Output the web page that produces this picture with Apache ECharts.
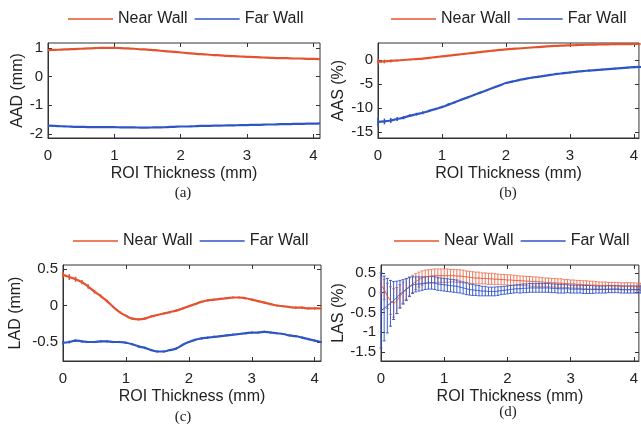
<!DOCTYPE html>
<html>
<head>
<meta charset="utf-8">
<script src="https://cdn.jsdelivr.net/npm/echarts@6/dist/echarts.min.js"></script>
<style>
  html, body { margin: 0; padding: 0; background: #fff; }
  #main { width: 641px; height: 430px; }
</style>
</head>
<body>
<div id="main"></div>
<script>
// ROI thickness (mm) for panels a-c
var thickness = [0, 0.1, 0.2, 0.3, 0.4, 0.5, 0.6, 0.7, 0.8, 0.9, 1.0, 1.1, 1.2, 1.3, 1.4, 1.5, 1.6, 1.7, 1.8, 1.9,
    2.0, 2.1, 2.2, 2.3, 2.4, 2.5, 2.6, 2.7, 2.8, 2.9, 3.0, 3.1, 3.2, 3.3, 3.4, 3.5, 3.6, 3.7, 3.8, 3.9, 4.0, 4.1];

// finer ROI thickness grid for panel d (error bars are dense there)
var thicknessFine = [0, 0.05, 0.1, 0.15, 0.2, 0.25, 0.3, 0.35, 0.4, 0.45,
    0.5, 0.55, 0.6, 0.65, 0.7, 0.75, 0.8, 0.85, 0.9, 0.95,
    1.0, 1.05, 1.1, 1.15, 1.2, 1.25, 1.3, 1.35, 1.4, 1.45,
    1.5, 1.55, 1.6, 1.65, 1.7, 1.75, 1.8, 1.85, 1.9, 1.95,
    2.0, 2.05, 2.1, 2.15, 2.2, 2.25, 2.3, 2.35, 2.4, 2.45,
    2.5, 2.55, 2.6, 2.65, 2.7, 2.75, 2.8, 2.85, 2.9, 2.95,
    3.0, 3.05, 3.1, 3.15, 3.2, 3.25, 3.3, 3.35, 3.4, 3.45,
    3.5, 3.55, 3.6, 3.65, 3.7, 3.75, 3.8, 3.85, 3.9, 3.95,
    4.0, 4.05, 4.1];

// (a) AAD (mm)
var aadNear = [0.92, 0.93, 0.94, 0.95, 0.96, 0.97, 0.98, 0.99, 1.0, 1.0, 1.0, 0.99, 0.98, 0.97, 0.95, 0.94, 0.92, 0.9, 0.88, 0.86,
    0.84, 0.82, 0.8, 0.78, 0.77, 0.75, 0.74, 0.72, 0.71, 0.7, 0.69, 0.68, 0.67, 0.66, 0.65, 0.64, 0.64, 0.63, 0.63, 0.62, 0.62, 0.61];
var aadFar = [-1.71, -1.72, -1.73, -1.74, -1.75, -1.75, -1.76, -1.76, -1.76, -1.76, -1.76, -1.77, -1.77, -1.77, -1.78, -1.78, -1.77, -1.77, -1.76, -1.75,
    -1.74, -1.74, -1.73, -1.72, -1.72, -1.71, -1.71, -1.7, -1.7, -1.69, -1.69, -1.68, -1.68, -1.67, -1.67, -1.66, -1.66, -1.65, -1.65, -1.64, -1.64, -1.63];

// (b) AAS (%)
var aasNear = [-0.4, -0.3, -0.2, -0.1, 0.0, 0.1, 0.2, 0.3, 0.45, 0.6, 0.75, 0.9, 1.05, 1.2, 1.35, 1.5, 1.65, 1.8, 1.95, 2.1,
    2.2, 2.3, 2.4, 2.5, 2.6, 2.7, 2.8, 2.9, 2.95, 3.0, 3.05, 3.1, 3.15, 3.2, 3.22, 3.25, 3.27, 3.3, 3.3, 3.32, 3.33, 3.35];
var aasNearErr = [0.6, 0.4, 0.3, 0.2, 0.15, 0.15, 0.12, 0.12, 0.1, 0.1, 0.1, 0.1, 0.1, 0.1, 0.1, 0.1, 0.1, 0.1, 0.1, 0.1,
    0.1, 0.1, 0.1, 0.1, 0.1, 0.1, 0.1, 0.1, 0.1, 0.1, 0.1, 0.1, 0.1, 0.1, 0.1, 0.1, 0.1, 0.1, 0.1, 0.1, 0.1, 0.1];
var aasFar = [-12.9, -12.8, -12.6, -12.3, -12.0, -11.6, -11.3, -11.0, -10.6, -10.2, -9.8, -9.3, -8.8, -8.3, -7.8, -7.3, -6.8, -6.3, -5.8, -5.3,
    -4.8, -4.5, -4.2, -3.95, -3.7, -3.5, -3.3, -3.1, -2.9, -2.75, -2.6, -2.45, -2.3, -2.2, -2.1, -2.0, -1.9, -1.8, -1.7, -1.6, -1.5, -1.45];
var aasFarErr = [0.9, 0.6, 0.5, 0.4, 0.35, 0.3, 0.3, 0.3, 0.25, 0.25, 0.25, 0.25, 0.25, 0.25, 0.2, 0.2, 0.2, 0.2, 0.2, 0.2,
    0.2, 0.2, 0.2, 0.2, 0.2, 0.2, 0.2, 0.2, 0.2, 0.2, 0.2, 0.2, 0.2, 0.2, 0.2, 0.2, 0.2, 0.2, 0.2, 0.2, 0.2, 0.2];

// (c) LAD (mm)
var ladNear = [0.42, 0.39, 0.36, 0.32, 0.26, 0.19, 0.13, 0.06, -0.02, -0.09, -0.14, -0.18, -0.19, -0.18, -0.15, -0.13, -0.11, -0.09, -0.07, -0.04,
    -0.01, 0.02, 0.05, 0.07, 0.08, 0.09, 0.1, 0.11, 0.11, 0.1, 0.08, 0.06, 0.04, 0.02, 0.0, -0.01, -0.02, -0.03, -0.03, -0.04, -0.04, -0.04];
var ladNearErr = [0.04, 0.04, 0.035, 0.03, 0.03, 0.025, 0.02, 0.02, 0.015, 0.015, 0.015, 0.015, 0.015, 0.015, 0.015, 0.015, 0.015, 0.015, 0.015, 0.015,
    0.015, 0.015, 0.015, 0.015, 0.015, 0.015, 0.015, 0.015, 0.015, 0.015, 0.015, 0.015, 0.015, 0.015, 0.015, 0.015, 0.015, 0.015, 0.015, 0.015, 0.015, 0.015];
var ladFar = [-0.51, -0.5, -0.48, -0.49, -0.5, -0.5, -0.49, -0.49, -0.5, -0.5, -0.51, -0.53, -0.56, -0.58, -0.61, -0.63, -0.63, -0.61, -0.59, -0.54,
    -0.5, -0.47, -0.45, -0.44, -0.43, -0.42, -0.41, -0.4, -0.39, -0.38, -0.37, -0.37, -0.36, -0.37, -0.38, -0.39, -0.41, -0.42, -0.44, -0.46, -0.48, -0.5];
var ladFarErr = [0.025, 0.02, 0.02, 0.015, 0.015, 0.015, 0.015, 0.015, 0.015, 0.015, 0.015, 0.015, 0.015, 0.015, 0.015, 0.015, 0.015, 0.015, 0.015, 0.015,
    0.015, 0.015, 0.015, 0.015, 0.015, 0.015, 0.015, 0.015, 0.015, 0.015, 0.015, 0.015, 0.015, 0.015, 0.015, 0.015, 0.015, 0.015, 0.015, 0.015, 0.015, 0.015];

// (d) LAS (%), on thicknessFine
var lasNear = [0.19, 0.08, -0.08, -0.2, -0.26, -0.2, -0.09, 0.0, 0.09, 0.16,
    0.22, 0.28, 0.33, 0.37, 0.4, 0.41, 0.42, 0.43, 0.43, 0.43,
    0.43, 0.43, 0.43, 0.43, 0.42, 0.42, 0.41, 0.4, 0.39, 0.38,
    0.37, 0.37, 0.36, 0.36, 0.35, 0.35, 0.34, 0.34, 0.33, 0.33,
    0.32, 0.32, 0.31, 0.31, 0.3, 0.3, 0.29, 0.29, 0.28, 0.28,
    0.27, 0.27, 0.26, 0.26, 0.25, 0.25, 0.24, 0.24, 0.23, 0.23,
    0.22, 0.22, 0.21, 0.21, 0.2, 0.2, 0.19, 0.19, 0.19, 0.18,
    0.18, 0.18, 0.17, 0.17, 0.17, 0.17, 0.16, 0.16, 0.16, 0.16,
    0.16, 0.15, 0.15];
var lasNearErr = [0.2, 0.26, 0.32, 0.35, 0.36, 0.33, 0.29, 0.27, 0.26, 0.24,
    0.22, 0.2, 0.19, 0.18, 0.17, 0.17, 0.17, 0.17, 0.17, 0.17,
    0.17, 0.17, 0.16, 0.16, 0.16, 0.16, 0.16, 0.15, 0.15, 0.15,
    0.15, 0.15, 0.14, 0.14, 0.14, 0.14, 0.14, 0.13, 0.13, 0.13,
    0.13, 0.13, 0.13, 0.12, 0.12, 0.12, 0.12, 0.12, 0.12, 0.12,
    0.12, 0.11, 0.11, 0.11, 0.11, 0.11, 0.11, 0.11, 0.1, 0.1,
    0.1, 0.1, 0.1, 0.1, 0.1, 0.1, 0.1, 0.1, 0.09, 0.09,
    0.09, 0.09, 0.09, 0.09, 0.09, 0.09, 0.09, 0.09, 0.09, 0.09,
    0.09, 0.09, 0.09];
var lasFar = [-0.45, -0.4, -0.33, -0.27, -0.2, -0.12, -0.04, 0.02, 0.08, 0.14,
    0.19, 0.21, 0.22, 0.23, 0.24, 0.25, 0.25, 0.24, 0.22, 0.21,
    0.2, 0.19, 0.18, 0.17, 0.16, 0.14, 0.12, 0.1, 0.08, 0.07,
    0.06, 0.05, 0.04, 0.04, 0.03, 0.03, 0.03, 0.04, 0.05, 0.06,
    0.07, 0.08, 0.09, 0.1, 0.1, 0.11, 0.11, 0.12, 0.12, 0.12,
    0.12, 0.12, 0.12, 0.12, 0.11, 0.11, 0.1, 0.1, 0.1, 0.1,
    0.09, 0.09, 0.09, 0.09, 0.08, 0.08, 0.08, 0.08, 0.08, 0.08,
    0.08, 0.08, 0.09, 0.09, 0.09, 0.09, 0.08, 0.08, 0.08, 0.08,
    0.08, 0.08, 0.08];
var lasFarErr = [0.95, 0.82, 0.69, 0.58, 0.48, 0.41, 0.35, 0.31, 0.28, 0.24,
    0.21, 0.19, 0.18, 0.17, 0.16, 0.16, 0.16, 0.16, 0.16, 0.16,
    0.16, 0.16, 0.16, 0.16, 0.16, 0.15, 0.15, 0.15, 0.14, 0.14,
    0.13, 0.13, 0.12, 0.12, 0.11, 0.11, 0.11, 0.11, 0.1, 0.1,
    0.1, 0.1, 0.1, 0.1, 0.11, 0.11, 0.11, 0.11, 0.11, 0.11,
    0.11, 0.11, 0.11, 0.11, 0.11, 0.11, 0.11, 0.11, 0.11, 0.1,
    0.1, 0.1, 0.1, 0.1, 0.1, 0.1, 0.1, 0.1, 0.09, 0.09,
    0.09, 0.09, 0.09, 0.09, 0.09, 0.09, 0.09, 0.09, 0.09, 0.09,
    0.09, 0.09, 0.09];

var xTicks = [0, 1, 2, 3, 4];
var yTicksA = [-2, -1, 0, 1];
var yTicksB = [-15, -10, -5, 0];
var yTicksC = [-0.5, 0, 0.5];
var yTicksD = [-1.5, -1, -0.5, 0, 0.5];

var nearColor = '#e4532f';
var farColor = '#2f55c4';
var nearBarColor = '#ea7d62';
var farBarColor = '#3d5fcc';
var font = '"Liberation Sans", Arial, sans-serif';

var panels = [
    { grid: { left: 48, top: 43, width: 272, height: 95 }, xMax: 4.1, yMin: -2.14, yMax: 1.17, yTicks: yTicksA, yName: 'AAD (mm)', yGap: 22,
      xs: thickness, near: aadNear, far: aadFar, legend: [63, 6], caption: ['(a)', 183, 193] },
    { grid: { left: 378, top: 43, width: 262, height: 95 }, xMax: 4.08, yMin: -16.25, yMax: 3.54, yTicks: yTicksB, yName: 'AAS (%)', yGap: 31,
      xs: thickness, near: aasNear, far: aasFar, nearErr: aasNearErr, farErr: aasFarErr, legend: [386, 6], caption: ['(b)', 508, 193] },
    { grid: { left: 63, top: 265, width: 258, height: 96 }, xMax: 4.1, yMin: -0.76, yMax: 0.555, yTicks: yTicksC, yName: 'LAD (mm)', yGap: 39,
      xs: thickness, near: ladNear, far: ladFar, nearErr: ladNearErr, farErr: ladFarErr, legend: [68, 228], caption: ['(c)', 183, 417] },
    { grid: { left: 381, top: 265, width: 259, height: 96 }, xMax: 4.08, yMin: -1.73, yMax: 0.7, yTicks: yTicksD, yName: 'LAS (%)', yGap: 34,
      xs: thicknessFine, near: lasNear, far: lasFar, nearErr: lasNearErr, farErr: lasFarErr, legend: [389, 228], caption: ['(d)', 508, 412], bars: true }
];

function errorBars(name, idx, xs, mean, err, color, capW, width) {
    var data = xs.map(function (t, i) { return [t, mean[i] - err[i], mean[i] + err[i]]; });
    return {
        type: 'custom',
        name: name,
        xAxisIndex: idx,
        yAxisIndex: idx,
        data: data,
        silent: true,
        renderItem: function (params, api) {
            var x = api.value(0);
            var lo = api.coord([x, api.value(1)]);
            var hi = api.coord([x, api.value(2)]);
            var st = { stroke: color, lineWidth: width };
            var kids = [{ type: 'line', shape: { x1: lo[0], y1: lo[1], x2: hi[0], y2: hi[1] }, style: st }];
            if (capW > 0) {
                kids.push({ type: 'line', shape: { x1: lo[0] - capW, y1: lo[1], x2: lo[0] + capW, y2: lo[1] }, style: st });
                kids.push({ type: 'line', shape: { x1: hi[0] - capW, y1: hi[1], x2: hi[0] + capW, y2: hi[1] }, style: st });
            }
            return { type: 'group', children: kids };
        }
    };
}

function lineSeries(name, idx, xs, ys, color, width) {
    return {
        type: 'line',
        name: name,
        xAxisIndex: idx,
        yAxisIndex: idx,
        data: xs.map(function (t, i) { return [t, ys[i]]; }),
        showSymbol: false,
        smooth: true,
        lineStyle: { color: color, width: width },
        itemStyle: { color: color }
    };
}

var grids = [], xAxes = [], yAxes = [], legends = [], series = [], graphics = [];
var axisColor = '#333';

panels.forEach(function (p, i) {
    grids.push(Object.assign({ show: true, borderColor: axisColor, borderWidth: 1, backgroundColor: '#fff' }, p.grid));
    xAxes.push({
        type: 'value', gridIndex: i, min: 0, max: p.xMax,
        name: 'ROI Thickness (mm)', nameLocation: 'middle', nameGap: 28,
        nameTextStyle: { fontFamily: font, fontSize: 16, color: '#222' },
        axisLine: { show: true, onZero: false, lineStyle: { color: axisColor } },
        axisTick: { inside: true, length: 4, customValues: xTicks, lineStyle: { color: axisColor } },
        axisLabel: { customValues: xTicks, margin: 10, fontFamily: font, fontSize: 15, color: '#222' },
        splitLine: { show: false }
    });
    yAxes.push({
        type: 'value', gridIndex: i, min: p.yMin, max: p.yMax,
        name: p.yName, nameLocation: 'middle', nameGap: p.yGap, nameRotate: 90,
        nameTextStyle: { fontFamily: font, fontSize: 16, color: '#222' },
        axisLine: { show: true, onZero: false, lineStyle: { color: axisColor } },
        axisTick: { inside: true, length: 4, customValues: p.yTicks, lineStyle: { color: axisColor } },
        axisLabel: { customValues: p.yTicks, margin: 5, fontFamily: font, fontSize: 15, color: '#222' },
        splitLine: { show: false }
    });
    legends.push({
        left: p.legend[0], top: p.legend[1],
        data: ['Near Wall', 'Far Wall'],
        icon: 'rect', itemWidth: 45, itemHeight: 1.5, itemGap: 7,
        textStyle: { fontFamily: font, fontSize: 16, color: '#222' }
    });
    graphics.push({
        type: 'text', x: p.caption[1], y: p.caption[2],
        style: { text: p.caption[0], textAlign: 'center', textVerticalAlign: 'middle',
                 font: '15px "Liberation Serif", "Times New Roman", serif', fill: '#222' }
    });

    if (p.bars) {
        series.push(errorBars('near-err', i, p.xs, p.near, p.nearErr, nearBarColor, 1.5, 1));
        series.push(lineSeries('Near Wall', i, p.xs, p.near, nearColor, 1));
        series.push(errorBars('far-err', i, p.xs, p.far, p.farErr, farBarColor, 1.5, 1));
        series.push(lineSeries('Far Wall', i, p.xs, p.far, farColor, 1));
    } else {
        if (p.nearErr) series.push(errorBars('near-err', i, p.xs, p.near, p.nearErr, nearColor, 0, 1.5));
        series.push(lineSeries('Near Wall', i, p.xs, p.near, nearColor, 2.2));
        if (p.farErr) series.push(errorBars('far-err', i, p.xs, p.far, p.farErr, farColor, 0, 1.5));
        series.push(lineSeries('Far Wall', i, p.xs, p.far, farColor, 2.2));
    }
});

// ticks on the top and right edges of each box
panels.forEach(function (p, i) {
    xAxes.push({
        type: 'value', gridIndex: i, position: 'top', min: 0, max: p.xMax,
        axisLine: { show: false, onZero: false },
        axisTick: { inside: true, length: 4, customValues: xTicks, lineStyle: { color: axisColor } },
        axisLabel: { show: false }, splitLine: { show: false }
    });
    yAxes.push({
        type: 'value', gridIndex: i, position: 'right', min: p.yMin, max: p.yMax,
        axisLine: { show: false, onZero: false },
        axisTick: { inside: true, length: 4, customValues: p.yTicks, lineStyle: { color: axisColor } },
        axisLabel: { show: false }, splitLine: { show: false }
    });
});

var myChart = echarts.init(document.getElementById('main'));
var option = {
    animation: false,
    backgroundColor: '#fff',
    grid: grids,
    xAxis: xAxes,
    yAxis: yAxes,
    legend: legends,
    graphic: graphics,
    series: series
};
myChart.setOption(option);
</script>
</body>
</html>
